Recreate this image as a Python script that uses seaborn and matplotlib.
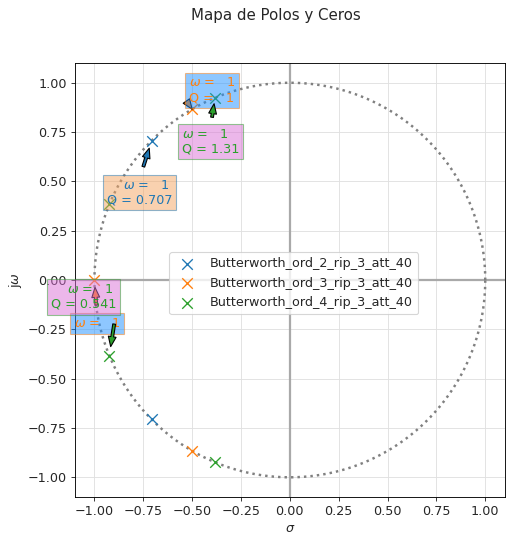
import numpy as np
import seaborn as sns
import matplotlib.pyplot as plt

# polos de cada filtro (parte real, parte imaginaria)
filtros = ["Butterworth_ord_2_rip_3_att_40",
           "Butterworth_ord_3_rip_3_att_40",
           "Butterworth_ord_4_rip_3_att_40"]
polos_re = [[-0.707, -0.707],
            [-1.0, -0.5, -0.5],
            [-0.383, -0.383, -0.924, -0.924]]
polos_im = [[0.707, -0.707],
            [0.0, 0.866, -0.866],
            [0.924, -0.924, 0.383, -0.383]]

# anotaciones sobre los polos
omega = [1, 1, 1, 1, 1]
q_val = [0.707, None, 1, 1.31, 0.541]
anot_filtro = [0, 1, 1, 2, 2]
anot_re = [-0.707, -1.0, -0.5, -0.383, -0.924]
anot_im = [0.707, 0.0, 0.866, 0.924, -0.383]
anot_xy_texto = [(-0.937, 0.372), (-1.105, -0.252), (-0.517, 0.890), (-0.553, 0.631), (-1.223, -0.156)]
anot_sangria = [4, 0, 0, 0, 4]
anot_caja = ["sandybrown", "dodgerblue", "dodgerblue", "orchid", "orchid"]

sns.set_style("ticks")
plt.rcParams["font.family"] = ["DejaVu Sans"]
plt.rcParams["font.size"] = 11.5
plt.rcParams["axes.edgecolor"] = "black"

fig = plt.figure(figsize=(513 / 80, 541 / 80), dpi=80)
ax = fig.add_axes([0.146, 0.0813, 0.838, 0.8022])

colores = sns.color_palette("tab10")

# circulo unitario
t = np.linspace(0, 2 * np.pi, 400)
ax.plot(np.cos(t), np.sin(t), ls=":", color="gray", lw=2.2)

ax.axhline(0, color="darkgray", lw=2, zorder=1)
ax.axvline(0, color="darkgray", lw=2, zorder=1)

for i, nombre in enumerate(filtros):
    sns.scatterplot(x=polos_re[i], y=polos_im[i], marker="x", s=90,
                    color=colores[i], label=nombre, ax=ax, linewidth=1.2, zorder=3)

for k in range(len(anot_re)):
    c = colores[anot_filtro[k]]
    txt = " " * anot_sangria[k] + f"$\\omega$ = {omega[k]:3.3g}"
    if q_val[k] is not None:
        txt += f"\nQ = {q_val[k]:3.3g}"
    ax.annotate(txt, xy=(anot_re[k], anot_im[k]), xytext=anot_xy_texto[k],
                textcoords="data", color=c, fontsize=11.5, annotation_clip=False,
                ha="left", va="bottom",
                bbox=dict(boxstyle="square", facecolor=anot_caja[k], alpha=0.5,
                          edgecolor=c),
                arrowprops=dict(facecolor=c, edgecolor="black", shrink=0.2,
                                width=2.5, headwidth=7, headlength=9))

ax.set_xlim(-1.1, 1.1)
ax.set_ylim(-1.1, 1.1)
ax.grid(True, color="#e0e0e0")
ax.set_xlabel("$\\sigma$")
ax.set_ylabel("j$\\omega$")
ax.legend(loc="center", bbox_to_anchor=(0.509, 0.493))

fig.suptitle("Mapa de Polos y Ceros", x=276 / 513, y=0.985, fontsize=13.5)

fig.savefig("out.png", dpi=80)
